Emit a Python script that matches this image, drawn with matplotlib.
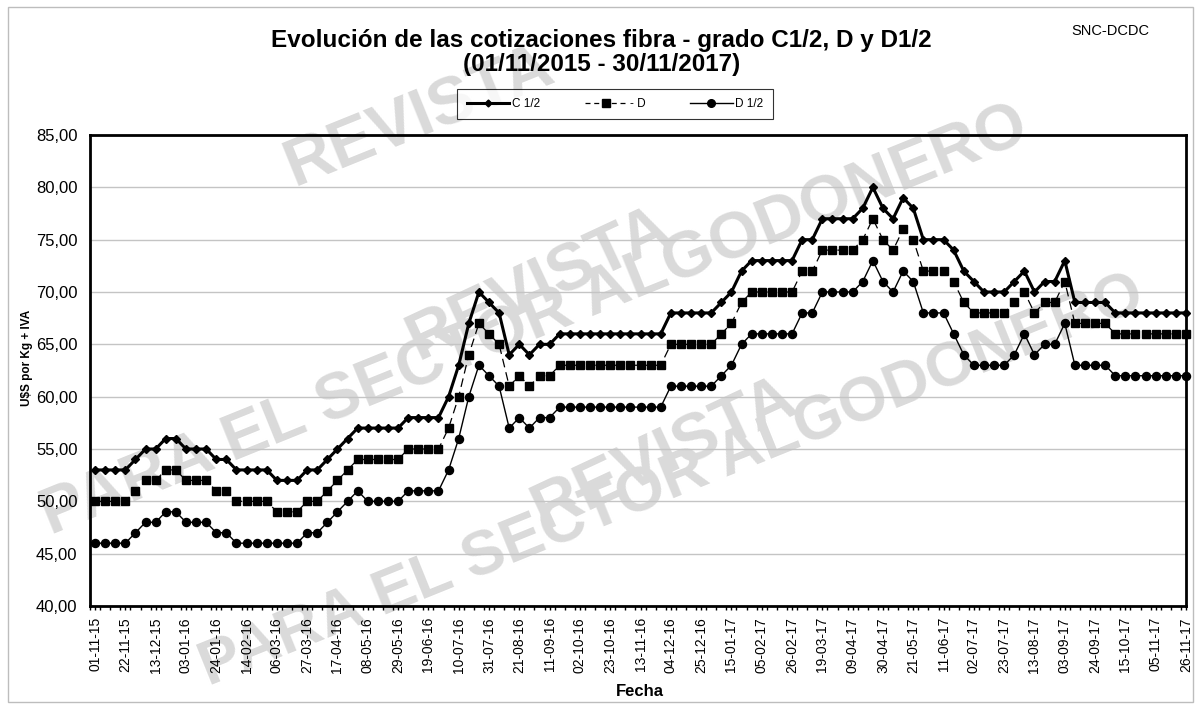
import matplotlib
matplotlib.use("Agg")
import matplotlib.pyplot as plt
from matplotlib.patches import Rectangle
from matplotlib.lines import Line2D

plt.rcParams['font.family'] = ['Liberation Sans', 'DejaVu Sans']

# ---------------- data (weekly quotes, U$S per Kg + IVA) ----------------
c12 = [53, 53, 53, 53, 54, 55, 55, 56, 56, 55, 55, 55, 54, 54, 53, 53, 53, 53, 52, 52,
       52, 53, 53, 54, 55, 56, 57, 57, 57, 57, 57, 58, 58, 58, 58, 60, 63, 67, 70, 69,
       68, 64, 65, 64, 65, 65, 66, 66, 66, 66, 66, 66, 66, 66, 66, 66, 66, 68, 68, 68,
       68, 68, 69, 70, 72, 73, 73, 73, 73, 73, 75, 75, 77, 77, 77, 77, 78, 80, 78, 77,
       79, 78, 75, 75, 75, 74, 72, 71, 70, 70, 70, 71, 72, 70, 71, 71, 73, 69, 69, 69,
       69, 68, 68, 68, 68, 68, 68, 68, 68]
d = [50, 50, 50, 50, 51, 52, 52, 53, 53, 52, 52, 52, 51, 51, 50, 50, 50, 50, 49, 49,
     49, 50, 50, 51, 52, 53, 54, 54, 54, 54, 54, 55, 55, 55, 55, 57, 60, 64, 67, 66,
     65, 61, 62, 61, 62, 62, 63, 63, 63, 63, 63, 63, 63, 63, 63, 63, 63, 65, 65, 65,
     65, 65, 66, 67, 69, 70, 70, 70, 70, 70, 72, 72, 74, 74, 74, 74, 75, 77, 75, 74,
     76, 75, 72, 72, 72, 71, 69, 68, 68, 68, 68, 69, 70, 68, 69, 69, 71, 67, 67, 67,
     67, 66, 66, 66, 66, 66, 66, 66, 66]
d12 = [46, 46, 46, 46, 47, 48, 48, 49, 49, 48, 48, 48, 47, 47, 46, 46, 46, 46, 46, 46,
       46, 47, 47, 48, 49, 50, 51, 50, 50, 50, 50, 51, 51, 51, 51, 53, 56, 60, 63, 62,
       61, 57, 58, 57, 58, 58, 59, 59, 59, 59, 59, 59, 59, 59, 59, 59, 59, 61, 61, 61,
       61, 61, 62, 63, 65, 66, 66, 66, 66, 66, 68, 68, 70, 70, 70, 70, 71, 73, 71, 70,
       72, 71, 68, 68, 68, 66, 64, 63, 63, 63, 63, 64, 66, 64, 65, 65, 67, 63, 63, 63,
       63, 62, 62, 62, 62, 62, 62, 62, 62]

tick_labels = ['01-11-15', '22-11-15', '13-12-15', '03-01-16', '24-01-16', '14-02-16',
               '06-03-16', '27-03-16', '17-04-16', '08-05-16', '29-05-16', '19-06-16',
               '10-07-16', '31-07-16', '21-08-16', '11-09-16', '02-10-16', '23-10-16',
               '13-11-16', '04-12-16', '25-12-16', '15-01-17', '05-02-17', '26-02-17',
               '19-03-17', '09-04-17', '30-04-17', '21-05-17', '11-06-17', '02-07-17',
               '23-07-17', '13-08-17', '03-09-17', '24-09-17', '15-10-17', '05-11-17',
               '26-11-17']
y_ticks = [40, 45, 50, 55, 60, 65, 70, 75, 80, 85]

# ---------------- figure ----------------
W, H = 1202, 709
fig = plt.figure(figsize=(W / 100, H / 100), dpi=100)
fig.patch.set_facecolor('white')

def fx(x):
    return x / W

def fy(y):
    return 1 - y / H

# outer chart border
fig.add_artist(Rectangle((fx(8), fy(702)), fx(1193) - fx(8), fy(7) - fy(702),
                         transform=fig.transFigure, fill=False, edgecolor='#bdbdbd',
                         linewidth=1.0, zorder=-5))

# watermark (behind the plot)
wm_color = '#dadada'
wm_kw = dict(color=wm_color, fontweight='bold', ha='center', va='center',
             rotation_mode='anchor', zorder=-2)
fig.text(fx(420), fy(118), 'REVISTA', rotation=22, fontsize=48, **wm_kw)
fig.text(fx(535), fy(322), 'PARA EL SECTOR ALGODONERO', rotation=22, fontsize=47, **wm_kw)
fig.text(fx(540), fy(285), 'REVISTA', rotation=25, fontsize=48, **wm_kw)
fig.text(fx(672), fy(482), 'PARA EL SECTOR ALGODONERO', rotation=22, fontsize=45, **wm_kw)
fig.text(fx(665), fy(455), 'REVISTA', rotation=25, fontsize=48, **wm_kw)

left, right, top, bottom = 90, 1186, 135, 606
ax = fig.add_axes([fx(left), fy(bottom), fx(right) - fx(left), fy(top) - fy(bottom)])
ax.set_facecolor('none')

x = list(range(len(c12)))
ax.plot(x, c12, color='black', linewidth=2.2, marker='D', markersize=4.2,
        label='C 1/2', zorder=4, clip_on=False)
ax.plot(x, d, color='black', linewidth=0.9, linestyle=(0, (7, 4)), marker='s',
        markersize=5.6, label='D', zorder=3, clip_on=False)
ax.plot(x, d12, color='black', linewidth=1.0, marker='o', markersize=5.8,
        label='D 1/2', zorder=3, clip_on=False)

ax.set_xlim(-0.5, len(c12) - 1)
ax.set_ylim(40, 85)
ax.set_yticks(y_ticks)
ax.set_yticklabels([f'{v:.2f}'.replace('.', ',') for v in y_ticks], fontsize=12)
ax.yaxis.grid(True, color='#c4c4c4', linewidth=1.0)
ax.set_axisbelow(True)
ax.tick_params(axis='y', length=0, pad=9)

ax.set_xticks(list(range(0, len(c12), 3)))
ax.set_xticklabels(tick_labels, rotation=90, fontsize=10)
ax.set_xticks([i - 0.5 for i in range(len(c12))], minor=True)
ax.tick_params(axis='x', which='major', length=3, width=1, direction='out', pad=5)
ax.tick_params(axis='x', which='minor', length=3, width=1, direction='out')

for s in ax.spines.values():
    s.set_linewidth(2.0)
    s.set_color('black')

# titles and labels
fig.text(fx(601), fy(40), 'Evolución de las cotizaciones fibra - grado C1/2, D y D1/2',
         ha='center', va='center', fontsize=17.5, fontweight='bold')
fig.text(fx(602), fy(64), '(01/11/2015 - 30/11/2017)',
         ha='center', va='center', fontsize=17.5, fontweight='bold')
fig.text(fx(1110), fy(31), 'SNC-DCDC', ha='center', va='center', fontsize=10.5)
fig.text(fx(640), fy(692), 'Fecha', ha='center', va='center', fontsize=12,
         fontweight='bold')
fig.text(fx(27), fy(358), 'U$S por Kg + IVA', ha='center', va='center', rotation=90,
         fontsize=8.5, fontweight='bold')

# legend
handles = [
    Line2D([], [], color='black', linewidth=2.2, marker='D', markersize=3.5),
    Line2D([], [], color='black', linewidth=0.9, linestyle=(0, (4, 3)), marker='s',
           markersize=5.5),
    Line2D([], [], color='black', linewidth=1.0, marker='o', markersize=5.5),
]
leg = fig.legend(handles, ['C 1/2', '- D', 'D 1/2'], ncol=3,
                 loc='center', bbox_to_anchor=(fx(615), fy(104)),
                 fontsize=8.5, frameon=True, fancybox=False, handlelength=3.6,
                 handletextpad=0.2, columnspacing=3.8, borderpad=0.8,
                 borderaxespad=0)
leg.get_frame().set_edgecolor('black')
leg.get_frame().set_linewidth(0.8)

fig.savefig('out.png', dpi=100, facecolor='white')
